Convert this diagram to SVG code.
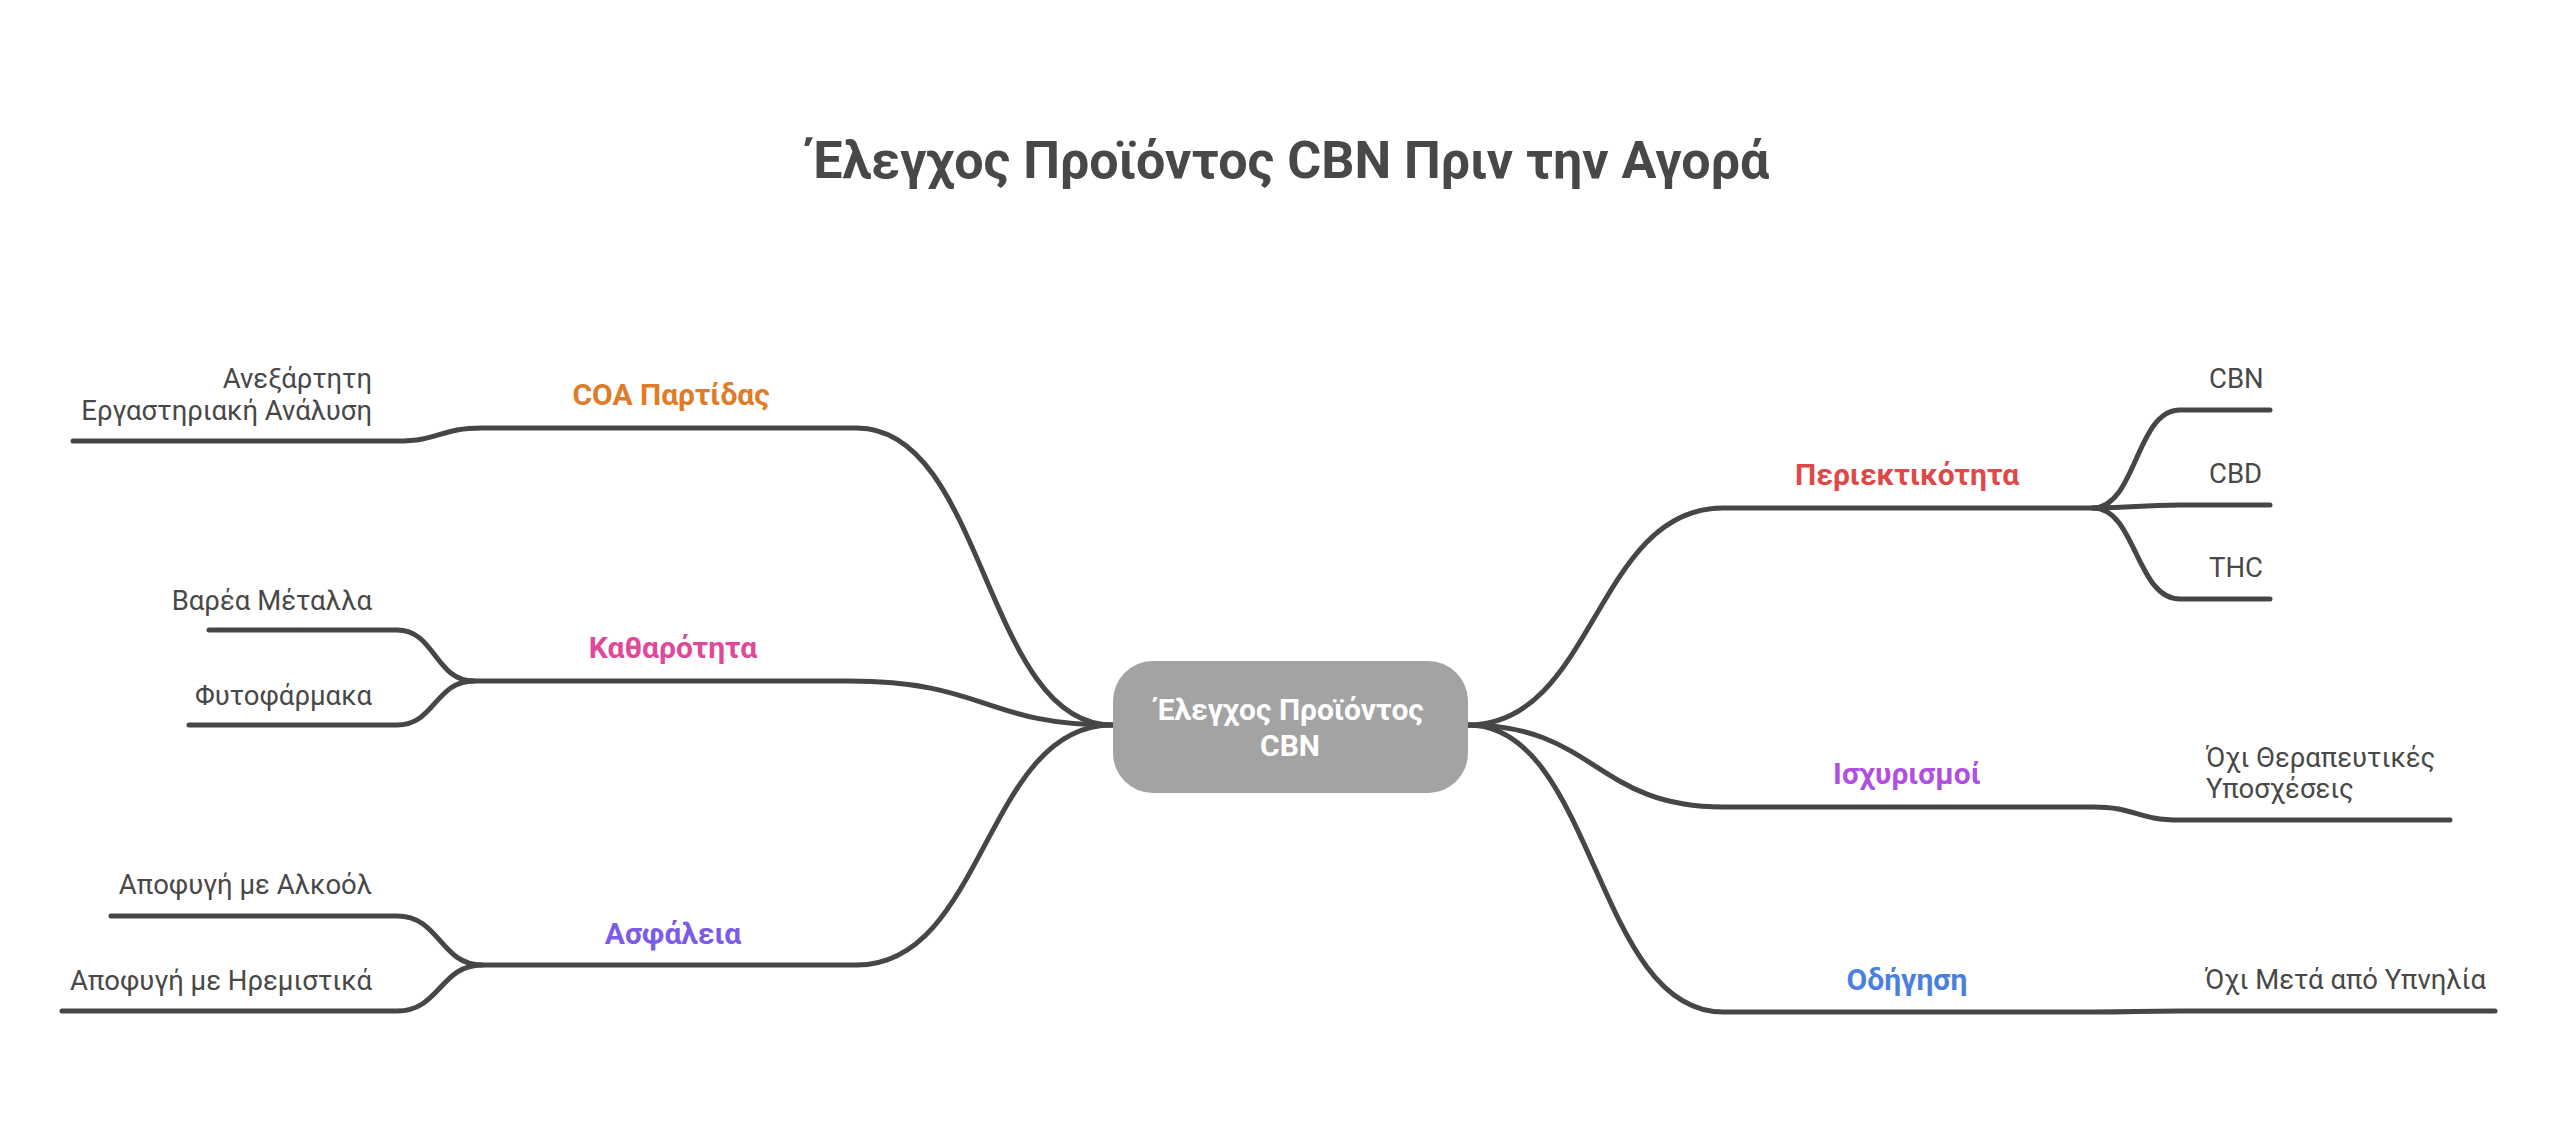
<svg xmlns="http://www.w3.org/2000/svg" width="2560" height="1140" viewBox="0 0 2560 1140">
<style>
.c{fill:none;stroke:#464646;stroke-width:5;stroke-linecap:round}
.t{font-family:Roboto,"Liberation Sans",sans-serif;font-size:27.5px;fill:#484848}
.l{font-family:Roboto,"Liberation Sans",sans-serif;font-size:30px;font-weight:bold;text-anchor:middle}
</style>
<rect width="2560" height="1140" fill="#fff"/>
<text x="1290" y="178" text-anchor="middle" font-family="Roboto,'Liberation Sans',sans-serif" font-size="52" font-weight="bold" fill="#484848">Έλεγχος Προϊόντος CBN Πριν την Αγορά</text>
<g id="connectors">
<path class="c" d="M1112 725 C985 725 985 428 857 428 L482 428 C440 428 440 441 397 441 L73 441"/>
<path class="c" d="M1112 725 C985 725 985 681 849 681 L474 681 C435 681 435 630 397 630 L209 630"/>
<path class="c" d="M474 681 C435 681 435 725 397 725 L189 725"/>
<path class="c" d="M1112 725 C985 725 985 965 857 965 L482 965 C440 965 440 916 397 916 L111 916"/>
<path class="c" d="M482 965 C440 965 440 1011 397 1011 L62 1011"/>
<path class="c" d="M1468 725 C1595 725 1595 508 1723 508 L2093 508 C2136 508 2136 410 2180 410 L2270 410"/>
<path class="c" d="M2093 508 C2136 508 2136 505 2180 505 L2270 505"/>
<path class="c" d="M2093 508 C2136 508 2136 599 2180 599 L2270 599"/>
<path class="c" d="M1468 725 C1595 725 1595 807 1723 807 L2093 807 C2136 807 2136 820 2180 820 L2450 820"/>
<path class="c" d="M1468 725 C1595 725 1595 1012 1723 1012 L2093 1012 C2136 1012 2136 1011 2180 1011 L2495 1011"/>
</g>
<g id="center">
<rect x="1113" y="661" width="355" height="132" rx="40" fill="#a3a3a3"/>
<text x="1290" y="720" text-anchor="middle" font-family="Roboto,'Liberation Sans',sans-serif" font-size="30" font-weight="bold" fill="#fff">Έλεγχος Προϊόντος</text>
<text x="1290" y="756" text-anchor="middle" font-family="Roboto,'Liberation Sans',sans-serif" font-size="30" font-weight="bold" fill="#fff">CBN</text>
</g>
<g id="coa"><text class="l" x="671" y="405" fill="#E07B28">COA Παρτίδας</text></g>
<g id="coa1"><text class="t" x="372" y="388" text-anchor="end">Ανεξάρτητη</text><text class="t" x="372" y="420" text-anchor="end">Εργαστηριακή Ανάλυση</text></g>
<g id="kath"><text class="l" x="673" y="658" fill="#E0489A">Καθαρότητα</text></g>
<g id="kath1"><text class="t" x="372" y="610" text-anchor="end">Βαρέα Μέταλλα</text></g>
<g id="kath2"><text class="t" x="372" y="705" text-anchor="end">Φυτοφάρμακα</text></g>
<g id="asf"><text class="l" x="673" y="944" fill="#7B5CE8">Ασφάλεια</text></g>
<g id="asf1"><text class="t" x="372" y="894" text-anchor="end">Αποφυγή με Αλκοόλ</text></g>
<g id="asf2"><text class="t" x="372" y="990" text-anchor="end">Αποφυγή με Ηρεμιστικά</text></g>
<g id="per"><text class="l" x="1907" y="485" fill="#E04848">Περιεκτικότητα</text></g>
<g id="per1"><text class="t" x="2209" y="388">CBN</text></g>
<g id="per2"><text class="t" x="2209" y="483">CBD</text></g>
<g id="per3"><text class="t" x="2209" y="577">THC</text></g>
<g id="isx"><text class="l" x="1907" y="784" fill="#B04FE0">Ισχυρισμοί</text></g>
<g id="isx1"><text class="t" x="2206" y="767">Όχι Θεραπευτικές</text><text class="t" x="2206" y="798">Υποσχέσεις</text></g>
<g id="odi"><text class="l" x="1907" y="990" fill="#4A7FE0">Οδήγηση</text></g>
<g id="odi1"><text class="t" x="2205" y="989">Όχι Μετά από Υπνηλία</text></g>
</svg>
